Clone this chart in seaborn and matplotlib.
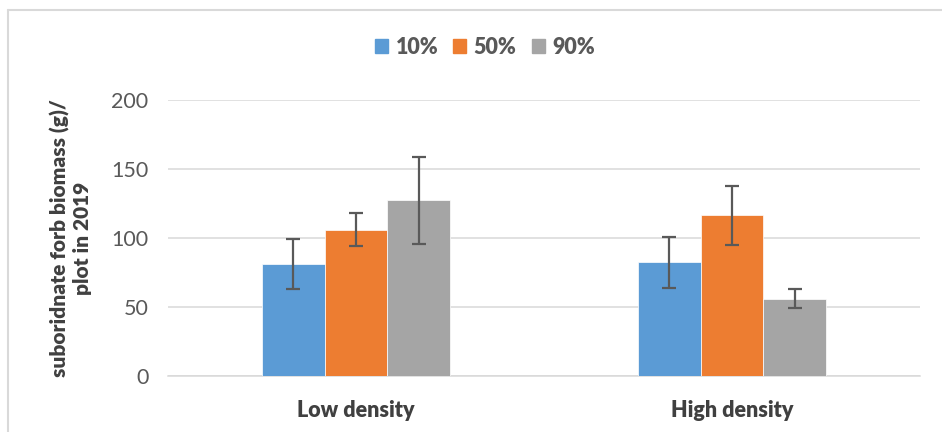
import matplotlib
matplotlib.use("Agg")
import matplotlib.pyplot as plt
from matplotlib.lines import Line2D
import seaborn as sns
import pandas as pd
import numpy as np

categories = ["Low density", "High density"]
levels = ["10%", "50%", "90%"]
means = {"10%": [81, 82.5], "50%": [106, 116.5], "90%": [127.5, 56]}
errors = {"10%": [18, 18.5], "50%": [12, 21.5], "90%": [31.5, 7]}
colors = ["#5B9BD5", "#ED7D31", "#A5A5A5"]

rows = []
for lv in levels:
    for i, c in enumerate(categories):
        rows.append({"density": c, "level": lv, "value": means[lv][i], "err": errors[lv][i]})
df = pd.DataFrame(rows)

sns.set_style("white")
plt.rcParams["font.family"] = ["Lato", "DejaVu Sans"]

fig = plt.figure(figsize=(9.42, 4.32), dpi=100)
ax = fig.add_axes([168/942, 1-376/432, (920-168)/942, (376-100)/432])

sns.barplot(data=df, x="density", y="value", hue="level", order=categories,
            hue_order=levels, palette=colors, width=0.5, gap=0, errorbar=None,
            saturation=1, edgecolor="white", linewidth=0.5, ax=ax, zorder=3)

# error bars at bar centers
for cont, lv in zip(ax.containers, levels):
    xs = [p.get_x() + p.get_width()/2 for p in cont.patches]
    hs = [p.get_height() for p in cont.patches]
    ax.errorbar(xs, hs, yerr=errors[lv], fmt="none", ecolor="#595959",
                elinewidth=1.6, capsize=5, capthick=1.6, zorder=4)

ax.set_xlim(-0.5, 1.5)
ax.set_ylim(0, 200)
ax.set_yticks([0, 50, 100, 150, 200])
ax.yaxis.grid(True, color="#D9D9D9", linewidth=1.1, zorder=0)
ax.set_axisbelow(True)
for s in ["top", "right", "left"]:
    ax.spines[s].set_visible(False)
ax.spines["bottom"].set_color("#D9D9D9")
ax.spines["bottom"].set_linewidth(1.1)
ax.tick_params(axis="both", length=0)
ax.tick_params(axis="y", labelsize=15.5, labelcolor="#595959", pad=14)
ax.tick_params(axis="x", labelsize=15.5, labelcolor="#404040", pad=17)
for t in ax.get_xticklabels():
    t.set_fontweight("heavy")
ax.set_xlabel("")
ax.set_ylabel("suboridnate forb biomass (g)/\nplot in 2019", fontsize=15,
              fontweight="heavy", color="#404040", labelpad=14, linespacing=1.15)

leg = ax.get_legend()
if leg is not None:
    leg.remove()
handles = [plt.Rectangle((0, 0), 1, 1, color=c) for c in colors]
fig.legend(handles, levels, loc="center", bbox_to_anchor=(485/942, 1-47/432),
           ncol=3, frameon=False, handlelength=0.6, handleheight=0.6,
           handletextpad=0.35, columnspacing=0.7,
           prop={"weight": "heavy", "size": 15.5})
for t in fig.legends[0].get_texts():
    t.set_color("#595959")

# chart border (left and top)
fig.add_artist(Line2D([7.5/942, 7.5/942], [0, 1-9.5/432], color="#D9D9D9", lw=1.5, transform=fig.transFigure))
fig.add_artist(Line2D([7.5/942, 1], [1-9.5/432, 1-9.5/432], color="#D9D9D9", lw=1.5, transform=fig.transFigure))

fig.savefig("out.png", dpi=100)
